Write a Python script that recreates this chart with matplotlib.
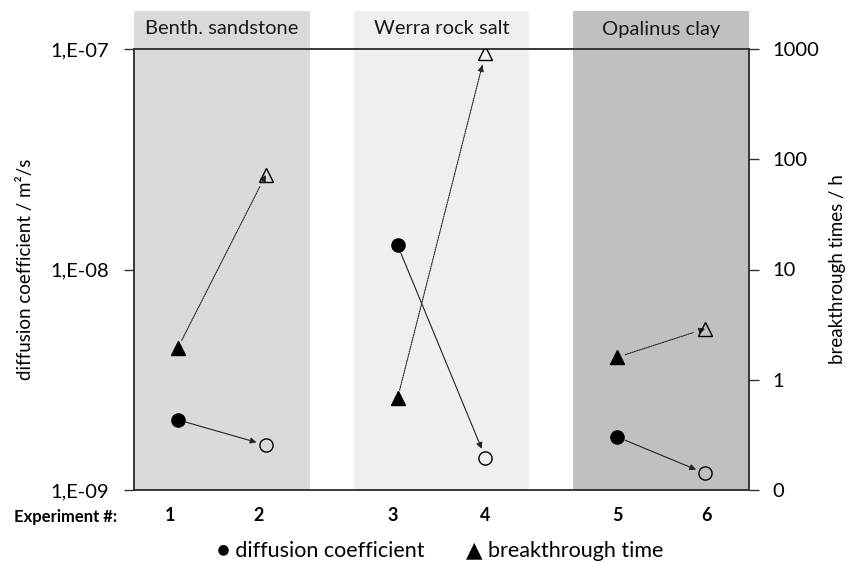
import matplotlib
matplotlib.use("Agg")
import matplotlib.pyplot as plt
import matplotlib.transforms as mtransforms
from matplotlib.patches import Rectangle
import numpy as np

plt.rcParams['font.family'] = ['Lato', 'DejaVu Sans']

# ---- data ----
experiments = ["1", "2", "3", "4", "5", "6"]
materials = ["Benth. sandstone", "Werra rock salt", "Opalinus clay"]
diff_start = [2.08e-9, 1.29e-8, 1.74e-9]      # filled circles (exp 1, 3, 5)
diff_end = [1.60e-9, 1.40e-9, 1.19e-9]        # open circles (exp 2, 4, 6)
bt_start = [1.95, 0.68, 1.6]                  # filled triangles (h)
bt_end = [72, 920, 2.9]                       # open triangles (h)
left_ticks = [1e-9, 1e-8, 1e-7]
left_ticklabels = ["1,E-09", "1,E-08", "1,E-07"]
right_ticks = [0.1, 1, 10, 100, 1000]
right_ticklabels = ["0", "1", "10", "100", "1000"]

# ---- layout ----
x_pos = [0.5, 1.5, 3.0, 4.0, 5.5, 6.5]
label_x = [0.41, 1.42, 2.94, 4.0, 5.5, 6.52]
band_span = [(0, 2), (2.5, 4.5), (5, 7)]
band_colors = ["#dadada", "#efefef", "#c0c0c0"]

fig = plt.figure(figsize=(8.49, 5.62), dpi=100)
ax = fig.add_axes([134/849, 1-490/562, (749-134)/849, (490-49)/562])
ax2 = ax.twinx()

ax.set_xlim(0, 7)
ax.set_yscale('log')
ax.set_ylim(1e-9, 1e-7)
ax2.set_yscale('log')
ax2.set_ylim(0.1, 1000)

trans = mtransforms.blended_transform_factory(ax.transData, ax.transAxes)
top = (490-11)/(490-49)
for (a, b), c, name in zip(band_span, band_colors, materials):
    r = Rectangle((a, 0), b-a, top, transform=trans, facecolor=c,
                  edgecolor='none', clip_on=False, zorder=-5)
    ax.add_patch(r)
    ax.text((a+b)/2, (490-29)/(490-49), name, transform=trans,
            ha='center', va='center', fontsize=14.5, color='#1a1a1a')

ax.set_zorder(1)
ax2.set_zorder(2)
ax.patch.set_visible(False)
ax2.patch.set_visible(False)

ms = 9.5
for i in range(3):
    xa, xb = x_pos[2*i], x_pos[2*i+1]
    # diffusion coefficient
    ax.plot([xa], [diff_start[i]], 'o', color='black', ms=ms, zorder=5)
    ax.plot([xb], [diff_end[i]], 'o', mfc='none', mec='black', mew=1.0, ms=ms, zorder=5)
    ax.annotate('', xy=(xb, diff_end[i]), xytext=(xa, diff_start[i]),
                arrowprops=dict(arrowstyle='-|>', color='#222222', lw=0.8,
                                shrinkA=6, shrinkB=7, mutation_scale=9), zorder=4)
    # breakthrough time
    ax2.plot([xa], [bt_start[i]], '^', color='black', ms=ms, zorder=5)
    ax2.plot([xb], [bt_end[i]], '^', mfc='none', mec='black', mew=1.0, ms=ms, zorder=5)
    ax2.annotate('', xy=(xb, bt_end[i]), xytext=(xa, bt_start[i]),
                 arrowprops=dict(arrowstyle='-', color='#222222', lw=0.8,
                                 linestyle=(0, (1.2, 1.0)),
                                 shrinkA=6, shrinkB=9), zorder=4)
    t = 0.96
    xm = xa + t*(xb-xa)
    ym = 10**(np.log10(bt_start[i]) + t*(np.log10(bt_end[i]) - np.log10(bt_start[i])))
    ax2.annotate('', xy=(xb, bt_end[i]), xytext=(xm, ym),
                 arrowprops=dict(arrowstyle='-|>', color='#222222', lw=0.8,
                                 shrinkA=0, shrinkB=9, mutation_scale=9), zorder=4)

for a in (ax, ax2):
    for s in a.spines.values():
        s.set_color('#333333')
        s.set_linewidth(1.1)

ax.set_yticks(left_ticks)
ax.set_yticklabels(left_ticklabels)
ax.yaxis.set_minor_locator(matplotlib.ticker.NullLocator())
ax.tick_params(axis='y', which='major', direction='out', length=7, width=1,
               color='#333333', labelsize=14.5, pad=11)
ax2.set_yticks(right_ticks)
ax2.set_yticklabels(right_ticklabels)
ax2.yaxis.set_minor_locator(matplotlib.ticker.NullLocator())
ax2.tick_params(axis='y', which='major', direction='out', length=7, width=1,
                color='#333333', labelsize=14.5, pad=10)

ax.set_xticks(label_x)
ax.set_xticklabels(experiments, fontweight='bold', fontsize=13)
ax.tick_params(axis='x', length=0, pad=12)

ax.set_ylabel("diffusion coefficient / m²/s", fontsize=13.5)
ax.yaxis.set_label_coords((34-134)/615, 0.5)
ax2.set_ylabel("breakthrough times / h", fontsize=13.5)
ax2.yaxis.set_label_coords((829-134)/615, 0.5)

fig.text(14/849, 1-517/562, "Experiment #:", fontweight='bold', fontsize=12,
         ha='left', va='center')
fig.text(217/849, 1-551/562, "● diffusion coefficient", fontsize=15.5,
         ha='left', va='center')
fig.text(466/849, 1-551/562, "▲ breakthrough time", fontsize=15.5,
         ha='left', va='center')

fig.savefig("out.png", dpi=100)
